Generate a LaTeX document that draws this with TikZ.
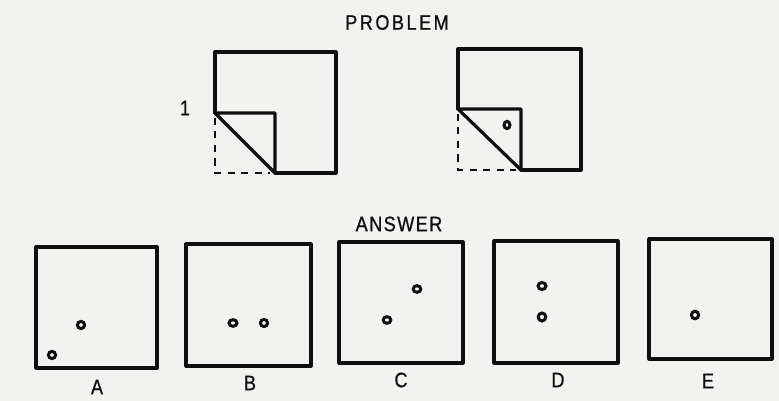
\documentclass[tikz,border=0pt]{standalone}
\usepackage{fontspec}
\setmainfont{Liberation Sans}[FakeStretch=0.86,FakeBold=0.8]
\definecolor{paper}{RGB}{242,242,240}
\definecolor{ink}{RGB}{15,15,15}
\begin{document}
\begin{tikzpicture}[x=1pt,y=-1pt,
  edge/.style={draw=ink,line width=3.2pt,line join=round,line cap=round},
  fold/.style={draw=ink,line width=2.9pt,dash pattern=on 7pt off 6.5pt},
  hole/.style={draw=ink,line width=3pt},
  lbl/.style={text=ink,font=\fontsize{21}{21}\selectfont,inner sep=0pt}]
\fill[paper] (0,0) rectangle (779,401);
\useasboundingbox (0,0) rectangle (779,401);
% title
\node[lbl,font=\fontsize{21}{21}\selectfont\addfontfeature{LetterSpace=12}] (prob) at (397,22.5) {PROBLEM};
\node[lbl] (one) at (185,108) {1};
% problem figure 1
\draw[edge] (215,113) -- (215,52) -- (336,52) -- (336,173) -- (275,173);
\draw[edge] (215,113) -- (275,113) -- (275,173) -- cycle;
\draw[fold] (215,118) -- (215,173) -- (270,173);
% problem figure 2
\draw[edge] (458,109) -- (458,49) -- (581,49) -- (581,170) -- (521,170);
\draw[edge] (458,109) -- (521,109) -- (521,170) -- cycle;
\draw[fold] (458,114) -- (458,170) -- (516,170);
\draw[hole] (507,125) ellipse (3 and 3.6);
% answer
\node[lbl,font=\fontsize{21}{21}\selectfont\addfontfeature{LetterSpace=7}] (ans) at (399,224) {ANSWER};
% A
\draw[edge] (36,247) rectangle (157,368);
\draw[hole] (81,325) ellipse (3.6 and 3.6);
\draw[hole] (52,355) ellipse (3.6 and 3.6);
\node[lbl] (la) at (97,387) {A};
% B
\draw[edge] (186,244) rectangle (311,366);
\draw[hole] (233,323) ellipse (4 and 3.3);
\draw[hole] (264,323) ellipse (3.6 and 3.6);
\node[lbl] (lb) at (250,383) {B};
% C
\draw[edge] (339,242) rectangle (463,363);
\draw[hole] (387,320) ellipse (3.8 and 3.3);
\draw[hole] (417,289) ellipse (3.8 and 3.3);
\node[lbl] (lc) at (401,380) {C};
% D
\draw[edge] (494,241) rectangle (618,363);
\draw[hole] (542,286) ellipse (4 and 3.5);
\draw[hole] (542,317) ellipse (3.8 and 4);
\node[lbl] (ld) at (558,380) {D};
% E
\draw[edge] (649,239) rectangle (772,359);
\draw[hole] (695,315) ellipse (3.6 and 3.8);
\node[lbl] (le) at (708,381) {E};
\end{tikzpicture}
\end{document}
